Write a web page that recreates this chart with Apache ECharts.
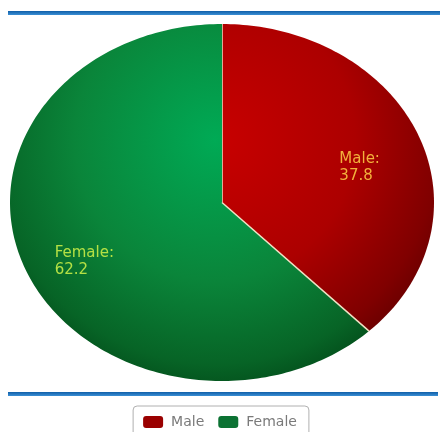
<!DOCTYPE html>
<html>
<head>
<meta charset="utf-8">
<script src="https://cdn.jsdelivr.net/npm/echarts@6/dist/echarts.min.js"></script>
<style>
  html, body { margin: 0; padding: 0; background: #fff; }
  #main { width: 440px; height: 432px; }
</style>
</head>
<body>
<div id="main"></div>
<script>
// 数据
var categories = ['Male', 'Female'];
var values = [37.8, 62.2];

// 颜色
var gradStops = [
    [['#c80000', 0], ['#ac0000', 0.5], ['#800000', 0.8], ['#520000', 1]],
    [['#00aa55', 0], ['#0a853a', 0.5], ['#076426', 0.8], ['#003c12', 1]]
];
var legendColors = ['#9a0000', '#0c7233'];
var labelColors = ['#f2b03c', '#b4e044'];
var labelFont = '15px "DejaVu Sans"';

var total = values.reduce(function (a, b) { return a + b; }, 0);

// 文字宽度
var measureCtx = document.createElement('canvas').getContext('2d');
measureCtx.font = labelFont;
function textWidth(s) {
    return measureCtx.measureText(s).width;
}

// 椭圆扇形路径
function ellipseSector(cx, cy, rx, ry, a0, a1) {
    var n = Math.max(8, Math.ceil((a1 - a0) / 0.02));
    var d = 'M' + cx + ' ' + cy;
    for (var k = 0; k <= n; k++) {
        var a = a0 + (a1 - a0) * k / n;
        d += 'L' + (cx + rx * Math.sin(a)) + ' ' + (cy - ry * Math.cos(a));
    }
    return d + 'Z';
}

function makeSeries(i) {
    var before = 0;
    for (var j = 0; j < i; j++) before += values[j];
    return {
        type: 'custom',
        name: categories[i],
        coordinateSystem: 'none',
        itemStyle: { color: legendColors[i] },
        data: [[before, values[i]]],
        renderItem: function (params, api) {
            var cx = 222, cy = 202.5, rx = 212, ry = 178.5;
            var a0 = api.value(0) / total * Math.PI * 2;
            var a1 = (api.value(0) + api.value(1)) / total * Math.PI * 2;
            var am = (a0 + a1) / 2;
            var f = 0.7;
            var lx = cx + rx * Math.sin(am) * f;
            var ly = cy - ry * Math.cos(am) * f + 12;
            var t1 = categories[i] + ':';
            var t2 = String(api.value(1));
            var w = Math.max(textWidth(t1), textWidth(t2));
            return {
                type: 'group',
                children: [{
                    type: 'path',
                    shape: { pathData: ellipseSector(cx, cy, rx, ry, a0, a1) },
                    style: {
                        fill: new echarts.graphic.RadialGradient(215, 140, 280,
                            gradStops[i].map(function (s) {
                                return { offset: s[1], color: s[0] };
                            }), true)
                    }
                }, {
                    type: 'line',
                    shape: {
                        x1: cx, y1: cy,
                        x2: cx + rx * Math.sin(a0), y2: cy - ry * Math.cos(a0)
                    },
                    style: { stroke: '#f0e2c4', lineWidth: 1.5 }
                }, {
                    type: 'text',
                    x: lx - w / 2,
                    y: ly,
                    style: {
                        text: t1 + '\n' + t2,
                        fill: labelColors[i],
                        font: labelFont,
                        lineHeight: 17,
                        align: 'left',
                        verticalAlign: 'middle'
                    }
                }]
            };
        }
    };
}

var chart = echarts.init(document.getElementById('main'));
chart.setOption({
    animation: false,
    backgroundColor: '#fff',
    graphic: [{
        type: 'rect',
        shape: { x: 8, y: 11, width: 432, height: 4 },
        style: {
            fill: new echarts.graphic.LinearGradient(0, 0, 0, 1, [
                { offset: 0, color: '#0f5ea8' },
                { offset: 1, color: '#3b8fd4' }
            ])
        }
    }, {
        type: 'rect',
        shape: { x: 8, y: 392, width: 430, height: 4 },
        style: {
            fill: new echarts.graphic.LinearGradient(0, 0, 0, 1, [
                { offset: 0, color: '#0f5ea8' },
                { offset: 1, color: '#3b8fd4' }
            ])
        }
    }],
    legend: {
        data: categories,
        top: 406,
        left: 'center',
        icon: 'roundRect',
        itemWidth: 20,
        itemHeight: 12,
        itemGap: 14,
        padding: [9, 12, 10, 10],
        borderColor: '#b0b0b0',
        borderWidth: 1,
        borderRadius: 4,
        backgroundColor: '#fff',
        textStyle: { color: '#7a7a7a', fontSize: 14, fontFamily: 'DejaVu Sans', padding: [0, 0, 0, 3] }
    },
    series: categories.map(function (c, i) { return makeSeries(i); })
});
</script>
</body>
</html>
